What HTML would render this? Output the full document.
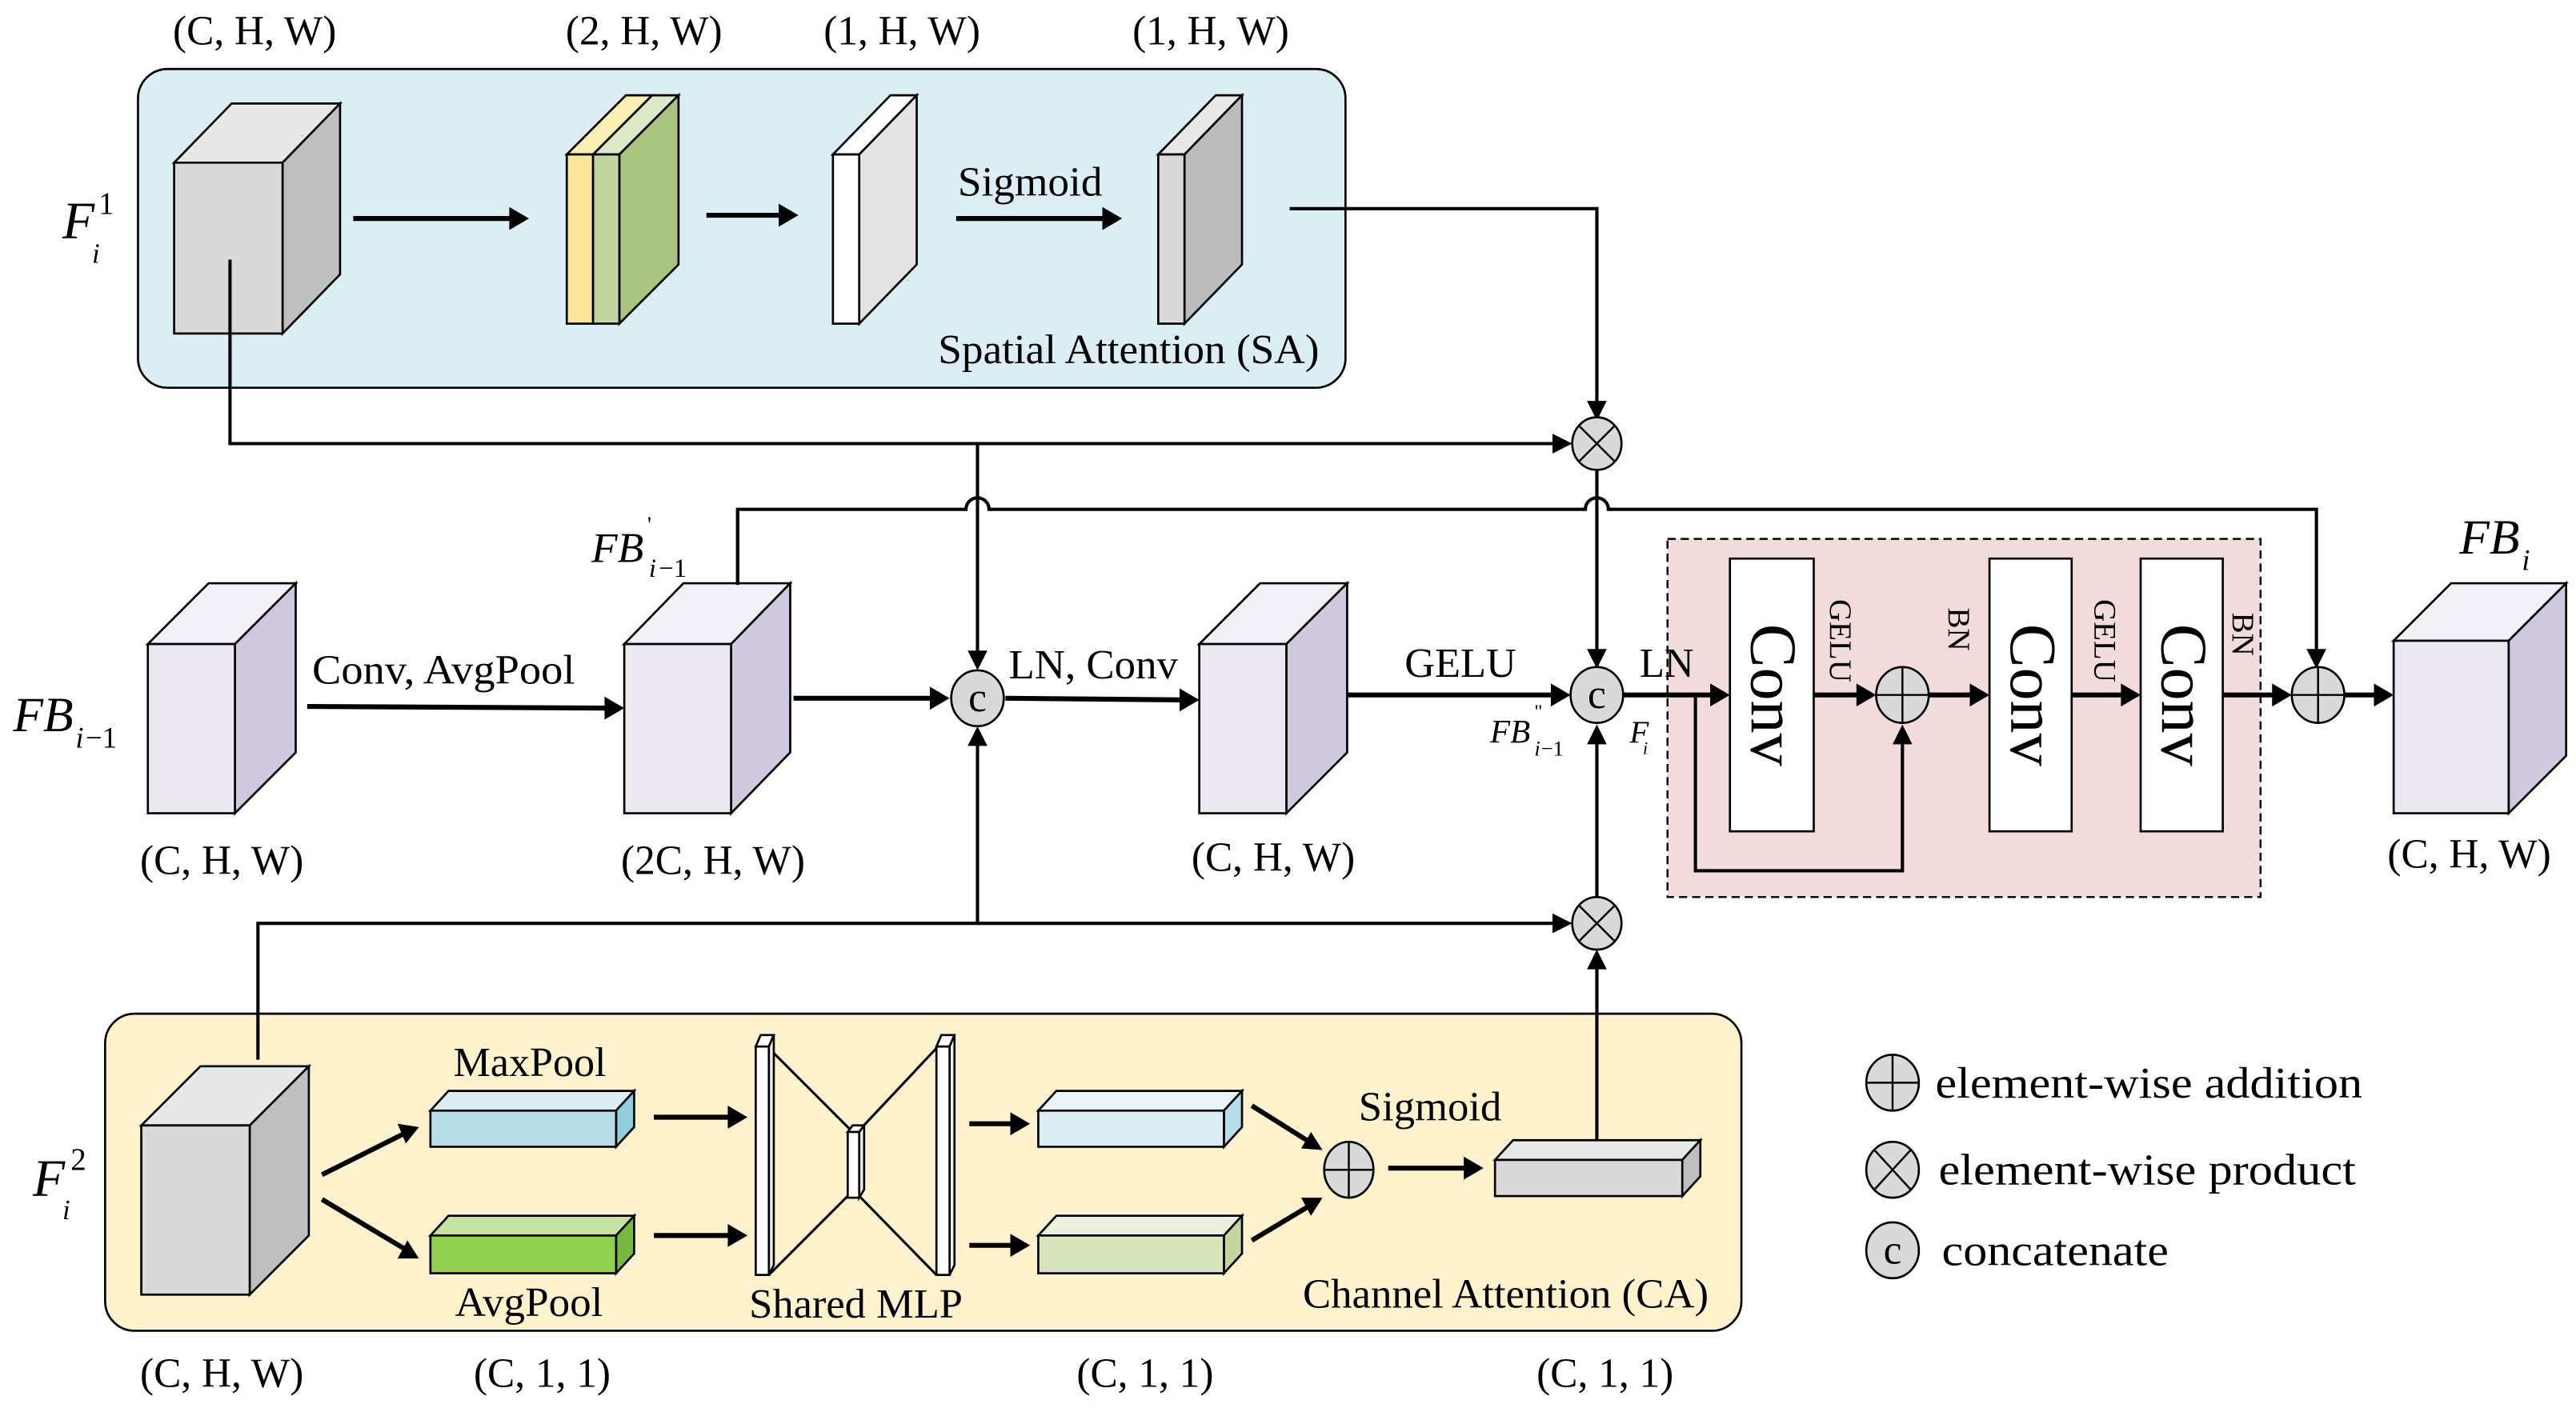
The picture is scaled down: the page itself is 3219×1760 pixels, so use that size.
<!DOCTYPE html>
<html><head><meta charset="utf-8"><style>
html,body{margin:0;padding:0;background:#fff;}
svg{display:block;}
text{font-family:"Liberation Serif",serif;fill:#000;}
</style></head><body>
<svg width="3219" height="1760" viewBox="0 0 1568 857" preserveAspectRatio="none" xmlns="http://www.w3.org/2000/svg">
<style>
.ln{stroke:#000;stroke-width:2;fill:none;}
.th{stroke:#000;stroke-width:3;fill:none;}
.f{stroke:#000;stroke-width:1.3;}
.lab{font-size:25px;}
</style>

<rect x="84" y="42" width="735" height="194" rx="18" fill="#dbeef3" stroke="#000" stroke-width="1.3"/>
<rect x="64" y="617" width="996" height="193" rx="18" fill="#fff2cc" stroke="#000" stroke-width="1.3"/>
<rect x="1015" y="328" width="361" height="218" fill="#f2dcdb" stroke="#000" stroke-width="1.2" stroke-dasharray="5,3"/>

<text class="lab" x="155" y="27" text-anchor="middle">(C, H, W)</text>
<text class="lab" x="392" y="27" text-anchor="middle">(2, H, W)</text>
<text class="lab" x="549" y="27" text-anchor="middle">(1, H, W)</text>
<text class="lab" x="737" y="27" text-anchor="middle">(1, H, W)</text>

<text x="38" y="145" font-size="32" font-style="italic">F</text>
<text x="56" y="160" font-size="17" font-style="italic">i</text>
<text x="60" y="130" font-size="19">1</text>

<polygon class="f" points="106,99 141,63 207,63 172,99" fill="#e8e8e8"/>
<polygon class="f" points="172,99 207,63 207,167 172,203" fill="#bfbfbf"/>
<rect class="f" x="106" y="99" width="66" height="104" fill="#d9d9d9"/>
<line class="th" x1="215" y1="133" x2="312" y2="133"/><polygon points="322,133 310,126 310,140"/>
<polygon class="f" points="345,94 361,94 397,58 381,58" fill="#fdeeb5"/>
<polygon class="f" points="361,94 377,94 413,58 397,58" fill="#dde8c8"/>
<polygon class="f" points="377,94 413,58 413,161 377,197" fill="#a9c47f"/>
<rect class="f" x="345" y="94" width="16" height="103" fill="#fde699"/>
<rect class="f" x="361" y="94" width="16" height="103" fill="#c2d6a0"/>
<line class="th" x1="430" y1="131" x2="476" y2="131"/><polygon points="486,131 474,124 474,138"/>
<polygon class="f" points="507,94 523,94 558,58 542,58" fill="#fff"/>
<polygon class="f" points="523,94 558,58 558,161 523,197" fill="#e4e4e4"/>
<rect class="f" x="507" y="94" width="16" height="103" fill="#fff"/>
<text class="lab" x="583" y="119" textLength="88" lengthAdjust="spacingAndGlyphs">Sigmoid</text>
<line class="th" x1="582" y1="133" x2="673" y2="133"/><polygon points="683,133 671,126 671,140"/>
<polygon class="f" points="705,94 721,94 756,58 740,58" fill="#e8e8e8"/>
<polygon class="f" points="721,94 756,58 756,161 721,197" fill="#bcbcbc"/>
<rect class="f" x="705" y="94" width="16" height="103" fill="#d9d9d9"/>
<text class="lab" x="571" y="221" textLength="232" lengthAdjust="spacingAndGlyphs">Spatial Attention (SA)</text>

<polyline class="ln" points="785,127 972,127 972,246"/><polygon points="972,256 966,244 978,244"/>
<polyline class="ln" points="140,158 140,270 947,270"/><polygon points="957,270 945,264 945,276"/>
<line class="ln" x1="595" y1="270" x2="595" y2="398"/><polygon points="595,408 589,396 601,396"/>
<line class="ln" x1="972" y1="285" x2="972" y2="397"/><polygon points="972,407 966,395 978,395"/>
<path class="ln" d="M449,355 L449,310 L588,310 A7,7 0 0 1 602,310 L965,310 A7,7 0 0 1 979,310 L1410,310 L1410,397"/>
<polygon points="1410,407 1404,395 1416,395"/>

<ellipse cx="972" cy="270" rx="15" ry="16" fill="#d9d9d9" stroke="#000" stroke-width="1.3"/>
<line x1="961" y1="259" x2="983" y2="281" stroke="#000" stroke-width="1.2"/><line x1="983" y1="259" x2="961" y2="281" stroke="#000" stroke-width="1.2"/>

<text x="8" y="445" font-size="30" font-style="italic">FB</text>
<text x="46" y="455" font-size="18" font-style="italic">i</text><text x="52" y="455" font-size="18">−1</text>
<polygon class="f" points="90,392 127,355 180,355 143,392" fill="#f3f1f8"/>
<polygon class="f" points="143,392 180,355 180,458 143,495" fill="#d0c8de"/>
<rect class="f" x="90" y="392" width="53" height="103" fill="#ebe8f2"/>
<text class="lab" x="190" y="416" textLength="160" lengthAdjust="spacingAndGlyphs">Conv, AvgPool</text>
<line class="th" x1="187" y1="430" x2="370" y2="431"/><polygon points="380,431 368,424 368,438"/>
<polygon class="f" points="380,392 416,355 481,355 445,392" fill="#f3f1f8"/>
<polygon class="f" points="445,392 481,355 481,458 445,495" fill="#d0c8de"/>
<rect class="f" x="380" y="392" width="65" height="103" fill="#ebe8f2"/>
<line class="ln" x1="449" y1="310" x2="449" y2="356"/>
<text x="360" y="342" font-size="26" font-style="italic">FB</text>
<text x="394" y="324" font-size="14">'</text>
<text x="395" y="351" font-size="16" font-style="italic">i</text><text x="401" y="351" font-size="16">−1</text>
<line class="th" x1="483" y1="425" x2="568" y2="425"/><polygon points="578,425 566,418 566,432"/>
<ellipse cx="595" cy="425" rx="16" ry="17" fill="#d9d9d9" stroke="#000" stroke-width="1.3"/>
<text x="595" y="433" font-size="25" text-anchor="middle">c</text>
<line class="ln" x1="595" y1="562" x2="595" y2="452"/><polygon points="595,442 589,454 601,454"/>
<text class="lab" x="614" y="413" textLength="103" lengthAdjust="spacingAndGlyphs">LN, Conv</text>
<line class="th" x1="612" y1="425" x2="720" y2="426"/><polygon points="730,426 718,419 718,433"/>
<polygon class="f" points="730,392 767,355 820,355 783,392" fill="#f3f1f8"/>
<polygon class="f" points="783,392 820,355 820,458 783,495" fill="#d0c8de"/>
<rect class="f" x="730" y="392" width="53" height="103" fill="#ebe8f2"/>
<text class="lab" x="855" y="412" textLength="68" lengthAdjust="spacingAndGlyphs">GELU</text>
<line class="th" x1="820" y1="423" x2="946" y2="423"/><polygon points="956,423 944,416 944,430"/>
<ellipse cx="972" cy="423" rx="16" ry="17" fill="#d9d9d9" stroke="#000" stroke-width="1.3"/>
<text x="972" y="431" font-size="25" text-anchor="middle">c</text>
<text x="907" y="452" font-size="20" font-style="italic">FB</text>
<text x="934" y="437" font-size="12">"</text>
<text x="934" y="460" font-size="13" font-style="italic">i</text><text x="938" y="460" font-size="13">−1</text>
<text x="992" y="452" font-size="19" font-style="italic">F</text>
<text x="1000" y="459" font-size="11" font-style="italic">i</text>
<text class="lab" x="998" y="412" textLength="33" lengthAdjust="spacingAndGlyphs">LN</text>
<line class="th" x1="988" y1="423" x2="1043" y2="423"/><polygon points="1053,423 1041,416 1041,430"/>
<rect class="f" x="1053" y="340" width="51" height="166" fill="#fff"/>
<rect class="f" x="1211" y="340" width="50" height="166" fill="#fff"/>
<rect class="f" x="1303" y="340" width="50" height="166" fill="#fff"/>
<text transform="translate(1066,423) rotate(90)" font-size="40" text-anchor="middle">Conv</text>
<text transform="translate(1224,423) rotate(90)" font-size="40" text-anchor="middle">Conv</text>
<text transform="translate(1316,423) rotate(90)" font-size="40" text-anchor="middle">Conv</text>
<text transform="translate(1114,390) rotate(90)" font-size="19" text-anchor="middle">GELU</text>
<text transform="translate(1186,383) rotate(90)" font-size="19" text-anchor="middle">BN</text>
<text transform="translate(1275,390) rotate(90)" font-size="19" text-anchor="middle">GELU</text>
<text transform="translate(1359,386) rotate(90)" font-size="19" text-anchor="middle">BN</text>
<line class="th" x1="1104" y1="423" x2="1132" y2="423"/><polygon points="1142,423 1130,416 1130,430"/>
<ellipse cx="1158" cy="423" rx="16" ry="17" fill="#d9d9d9" stroke="#000" stroke-width="1.3"/>
<line x1="1142" y1="423" x2="1174" y2="423" stroke="#000" stroke-width="1.2"/><line x1="1158" y1="406" x2="1158" y2="440" stroke="#000" stroke-width="1.2"/>
<line class="th" x1="1174" y1="423" x2="1201" y2="423"/><polygon points="1211,423 1199,416 1199,430"/>
<line class="th" x1="1261" y1="423" x2="1293" y2="423"/><polygon points="1303,423 1291,416 1291,430"/>
<line class="th" x1="1353" y1="423" x2="1385" y2="423"/><polygon points="1395,423 1383,416 1383,430"/>
<polyline class="ln" points="1032,423 1032,530 1158,530 1158,452"/><polygon points="1158,441 1152,453 1164,453"/>
<ellipse cx="1411" cy="423" rx="16" ry="17" fill="#d9d9d9" stroke="#000" stroke-width="1.3"/>
<line x1="1395" y1="423" x2="1427" y2="423" stroke="#000" stroke-width="1.2"/><line x1="1411" y1="406" x2="1411" y2="440" stroke="#000" stroke-width="1.2"/>
<line class="th" x1="1427" y1="423" x2="1447" y2="423"/><polygon points="1457,423 1445,416 1445,430"/>
<polygon class="f" points="1457,390 1492,355 1562,355 1527,390" fill="#f3f1f8"/>
<polygon class="f" points="1527,390 1562,355 1562,460 1527,495" fill="#d0c8de"/>
<rect class="f" x="1457" y="390" width="70" height="105" fill="#ebe8f2"/>
<text x="1497" y="337" font-size="30" font-style="italic">FB</text>
<text x="1535" y="347" font-size="18" font-style="italic">i</text>

<text class="lab" x="135" y="532" text-anchor="middle">(C, H, W)</text>
<text class="lab" x="434" y="532" text-anchor="middle">(2C, H, W)</text>
<text class="lab" x="775" y="530" text-anchor="middle">(C, H, W)</text>
<text class="lab" x="1503" y="528" text-anchor="middle">(C, H, W)</text>

<polyline class="ln" points="157,645 157,562 947,562"/><polygon points="957,562 945,556 945,568"/>
<ellipse cx="972" cy="562" rx="15" ry="16" fill="#d9d9d9" stroke="#000" stroke-width="1.3"/>
<line x1="961" y1="551" x2="983" y2="573" stroke="#000" stroke-width="1.2"/><line x1="983" y1="551" x2="961" y2="573" stroke="#000" stroke-width="1.2"/>
<line class="ln" x1="972" y1="546" x2="972" y2="452"/><polygon points="972,441 966,453 978,453"/>
<line class="ln" x1="972" y1="694" x2="972" y2="589"/><polygon points="972,578 966,590 978,590"/>

<text x="20" y="728" font-size="32" font-style="italic">F</text>
<text x="38" y="742" font-size="17" font-style="italic">i</text>
<text x="43" y="712" font-size="19">2</text>
<polygon class="f" points="86,685 122,649 188,649 152,685" fill="#e8e8e8"/>
<polygon class="f" points="152,685 188,649 188,752 152,788" fill="#bfbfbf"/>
<rect class="f" x="86" y="685" width="66" height="103" fill="#d9d9d9"/>
<line class="th" x1="196" y1="715" x2="246" y2="690"/><polygon points="255,686 242,684 247,696"/>
<line class="th" x1="196" y1="730" x2="246" y2="760"/><polygon points="255,766 248,755 242,766"/>
<polygon class="f" points="262,676 273,664 386,664 375,676" fill="#dbeef3"/>
<polygon class="f" points="375,676 386,664 386,686 375,698" fill="#92cddc"/>
<rect class="f" x="262" y="676" width="113" height="22" fill="#b7dde8"/>
<text class="lab" x="276" y="655" textLength="93" lengthAdjust="spacingAndGlyphs">MaxPool</text>
<polygon class="f" points="262,752 273,740 386,740 375,752" fill="#c4e3a0"/>
<polygon class="f" points="375,752 386,740 386,763 375,775" fill="#77b83e"/>
<rect class="f" x="262" y="752" width="113" height="23" fill="#92d050"/>
<text class="lab" x="277" y="801" textLength="90" lengthAdjust="spacingAndGlyphs">AvgPool</text>
<line class="th" x1="398" y1="680" x2="445" y2="680"/><polygon points="455,680 443,673 443,687"/>
<line class="th" x1="398" y1="752" x2="445" y2="752"/><polygon points="455,752 443,745 443,759"/>
<line x1="468" y1="638" x2="518" y2="688" stroke="#000" stroke-width="1.5"/>
<line x1="468" y1="776" x2="516" y2="728" stroke="#000" stroke-width="1.5"/>
<line x1="570" y1="638" x2="523" y2="688" stroke="#000" stroke-width="1.5"/>
<line x1="570" y1="776" x2="523" y2="728" stroke="#000" stroke-width="1.5"/>
<polygon class="f" points="460,637 463,630 471,630 468,637" fill="#fff"/>
<polygon class="f" points="468,637 471,630 471,770 468,776" fill="#eee"/>
<rect class="f" x="460" y="637" width="8" height="139" fill="#fff"/>
<polygon class="f" points="570,637 573,630 581,630 578,637" fill="#fff"/>
<polygon class="f" points="578,637 581,630 581,770 578,776" fill="#eee"/>
<rect class="f" x="570" y="637" width="8" height="139" fill="#fff"/>
<polygon class="f" points="516,689 519,685 526,685 523,689" fill="#fff"/>
<polygon class="f" points="523,689 526,685 526,724 523,729" fill="#eee"/>
<rect class="f" x="516" y="689" width="7" height="40" fill="#fff"/>
<text class="lab" x="456" y="802" textLength="130" lengthAdjust="spacingAndGlyphs">Shared MLP</text>
<line class="th" x1="590" y1="684" x2="617" y2="684"/><polygon points="627,684 615,677 615,691"/>
<line class="th" x1="590" y1="758" x2="617" y2="758"/><polygon points="627,758 615,751 615,765"/>
<polygon class="f" points="632,676 643,664 756,664 745,676" fill="#eaf5f8"/>
<polygon class="f" points="745,676 756,664 756,686 745,698" fill="#b7dde8"/>
<rect class="f" x="632" y="676" width="113" height="22" fill="#dbeef3"/>
<polygon class="f" points="632,752 643,740 756,740 745,752" fill="#ebf1de"/>
<polygon class="f" points="745,752 756,740 756,763 745,775" fill="#c3d69b"/>
<rect class="f" x="632" y="752" width="113" height="23" fill="#d7e4bd"/>
<line class="th" x1="762" y1="673" x2="797" y2="695"/><polygon points="805,700 798,689 792,699"/>
<line class="th" x1="762" y1="755" x2="797" y2="734"/><polygon points="805,729 792,729 798,740"/>
<ellipse cx="821" cy="712" rx="15" ry="17" fill="#d9d9d9" stroke="#000" stroke-width="1.3"/>
<line x1="806" y1="712" x2="836" y2="712" stroke="#000" stroke-width="1.2"/><line x1="821" y1="695" x2="821" y2="729" stroke="#000" stroke-width="1.2"/>
<text class="lab" x="827" y="682" textLength="87" lengthAdjust="spacingAndGlyphs">Sigmoid</text>
<line class="th" x1="845" y1="711" x2="893" y2="711"/><polygon points="903,711 891,704 891,718"/>
<polygon class="f" points="910,706 921,694 1035,694 1024,706" fill="#e8e8e8"/>
<polygon class="f" points="1024,706 1035,694 1035,716 1024,728" fill="#bfbfbf"/>
<rect class="f" x="910" y="706" width="114" height="22" fill="#d9d9d9"/>
<text class="lab" x="793" y="796" textLength="247" lengthAdjust="spacingAndGlyphs">Channel Attention (CA)</text>

<text class="lab" x="135" y="844" text-anchor="middle">(C, H, W)</text>
<text class="lab" x="330" y="844" text-anchor="middle">(C, 1, 1)</text>
<text class="lab" x="697" y="844" text-anchor="middle">(C, 1, 1)</text>
<text class="lab" x="977" y="844" text-anchor="middle">(C, 1, 1)</text>

<ellipse cx="1152" cy="659" rx="16" ry="17" fill="#d9d9d9" stroke="#000" stroke-width="1.3"/>
<line x1="1136" y1="659" x2="1168" y2="659" stroke="#000" stroke-width="1.2"/><line x1="1152" y1="642" x2="1152" y2="676" stroke="#000" stroke-width="1.2"/>
<text x="1178" y="668" font-size="27" textLength="260" lengthAdjust="spacingAndGlyphs">element-wise addition</text>
<ellipse cx="1152" cy="712" rx="16" ry="17" fill="#d9d9d9" stroke="#000" stroke-width="1.3"/>
<line x1="1141" y1="700" x2="1163" y2="724" stroke="#000" stroke-width="1.2"/><line x1="1163" y1="700" x2="1141" y2="724" stroke="#000" stroke-width="1.2"/>
<text x="1180" y="721" font-size="27" textLength="254" lengthAdjust="spacingAndGlyphs">element-wise product</text>
<ellipse cx="1152" cy="761" rx="16" ry="17" fill="#d9d9d9" stroke="#000" stroke-width="1.3"/>
<text x="1152" y="769" font-size="25" text-anchor="middle">c</text>
<text x="1182" y="770" font-size="27" textLength="138" lengthAdjust="spacingAndGlyphs">concatenate</text>
</svg>
</body></html>
